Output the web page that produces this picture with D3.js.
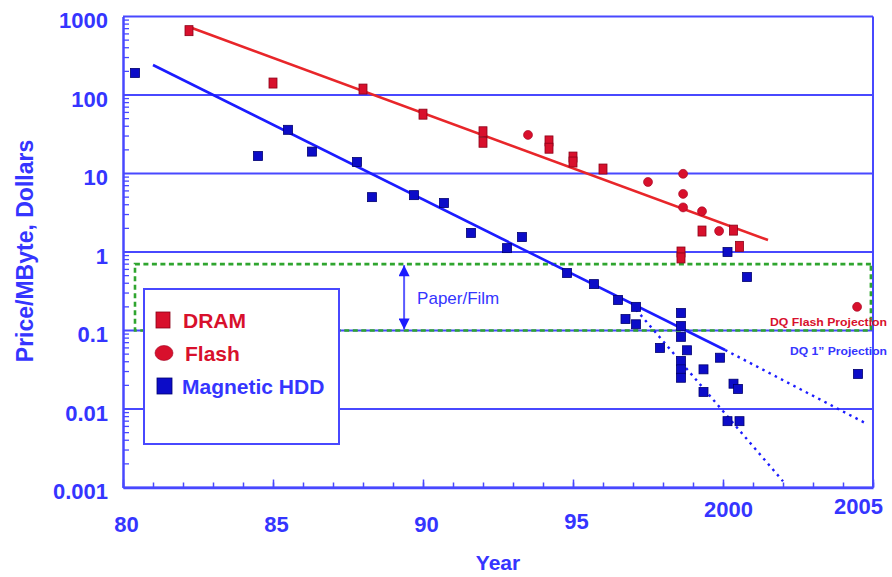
<!DOCTYPE html>
<html>
<head>
<meta charset="utf-8">
<script src="https://cdn.jsdelivr.net/npm/d3@7"></script>
<style>
  html, body { margin: 0; padding: 0; background: #fff; }
  svg { display: block; font-family: "Liberation Sans", Arial, sans-serif; }
</style>
</head>
<body>
<svg id="chart" width="892" height="577"></svg>
<script>
// ---------- data ----------
const dramYears  = [1982.2, 1985.0, 1988.0, 1990.0, 1992.0, 1992.0, 1994.2, 1994.2, 1995.0, 1995.0, 1996.0, 1998.6, 1998.6, 1999.3, 2000.35, 2000.55];
const dramValues = [660, 142, 119, 57, 34, 25, 26, 21, 16.2, 14, 11.4, 1.0, 0.84, 1.85, 1.9, 1.18];

const flashYears  = [1993.5, 1997.5, 1998.67, 1998.67, 1998.67, 1999.3, 1999.87, 2004.47];
const flashValues = [31, 7.8, 9.9, 5.5, 3.7, 3.3, 1.85, 0.2];

const hddYears  = [1980.4, 1984.5, 1985.5, 1986.3, 1987.8, 1988.3, 1989.7, 1990.7, 1991.6, 1992.8, 1993.3,
                   1994.8, 1995.7, 1996.5, 1997.1, 1996.75, 1997.1, 1997.9, 1998.6, 1998.6, 1998.6, 1998.8,
                   1998.6, 1998.6, 1998.6, 1999.35, 1999.35, 1999.9, 2000.35, 2000.5, 2000.15, 2000.55,
                   2000.15, 2000.8, 2004.5];
const hddValues = [191, 16.7, 36, 19, 14, 5.0, 5.3, 4.2, 1.75, 1.12, 1.55,
                   0.54, 0.39, 0.245, 0.2, 0.14, 0.12, 0.06, 0.167, 0.114, 0.083, 0.056,
                   0.041, 0.032, 0.025, 0.032, 0.0165, 0.045, 0.021, 0.018, 0.007, 0.007,
                   1.0, 0.48, 0.028];

const dramTrendYears  = [1982.3, 2001.5];
const dramTrendValues = [714, 1.42];
const hddTrendYears   = [1981.0, 2000.07];
const hddTrendValues  = [241, 0.0565];
const hddProjYears    = [2000.07, 2004.8];
const hddProjValues   = [0.0565, 0.00645];
const hddSteepYears   = [1997.1, 2002.0];
const hddSteepValues  = [0.185, 0.0012];

const paperFilmRange  = [0.1, 0.7];
const paperFilmYears  = [1980.4, 2004.93];
const paperArrowYear  = 1989.37;

const yTickValues = [1000, 100, 10, 1, 0.1, 0.01, 0.001];
const yTickLabels = ["1000", "100", "10", "1", "0.1", "0.01", "0.001"];
const xTickValues = [1980, 1985, 1990, 1995, 2000, 2005];
const xTickLabels = ["80", "85", "90", "95", "2000", "2005"];

const legendLabels = ["DRAM", "Flash", "Magnetic HDD"];

// ---------- layout / style ----------
const W = 892, H = 577;
const mLeft = 123, mRight = 873, mTop = 16.5, mBottom = 487.5;
const blueText = "#3535ff";
const gridBlue = "#4848ff";
const red = "#d8102c";
const redLine = "#e8262a";
const lineBlue = "#1c1cff";
const hddFill = "#0c0cc8";
const green = "#2fa52f";

const svg = d3.select("#chart");

const x = d3.scaleLinear().domain([1980, 2005]).range([mLeft, mRight]);
const y = d3.scaleLog().domain([0.001, 1000]).range([mBottom, mTop]);

// minor y ticks
const minorY = [];
for (let e = -3; e < 3; e++) for (let m = 2; m <= 9; m++) minorY.push(m * Math.pow(10, e));
svg.append("g").selectAll("line").data(minorY).join("line")
  .attr("x1", mLeft).attr("x2", mLeft + 6)
  .attr("y1", d => y(d)).attr("y2", d => y(d))
  .attr("stroke", gridBlue).attr("stroke-width", 1.3);

// horizontal grid lines
svg.append("g").selectAll("line").data(yTickValues).join("line")
  .attr("x1", mLeft).attr("x2", mRight)
  .attr("y1", d => y(d)).attr("y2", d => y(d))
  .attr("stroke", gridBlue).attr("stroke-width", 2);

// right border
svg.append("line").attr("x1", mRight).attr("x2", mRight).attr("y1", mTop).attr("y2", mBottom)
  .attr("stroke", gridBlue).attr("stroke-width", 2);

// Y axis
const yAxis = svg.append("g").attr("transform", `translate(${mLeft},0)`)
  .call(d3.axisLeft(y).tickValues(yTickValues).tickSize(0).tickPadding(15)
    .tickFormat((d, i) => yTickLabels[i]));
yAxis.select(".domain").attr("stroke", gridBlue).attr("stroke-width", 2.5);
yAxis.selectAll("text").attr("fill", blueText).attr("font-size", 22).attr("font-weight", "bold")
  .attr("dy", "0.5em");

// X axis: minor ticks
const years = d3.range(1980, 2006);
const xMinor = svg.append("g").attr("transform", `translate(0,${mBottom})`)
  .call(d3.axisBottom(x).tickValues(years).tickSizeInner(-5).tickSizeOuter(0).tickFormat(""));
xMinor.select(".domain").attr("stroke", gridBlue).attr("stroke-width", 2.5);
xMinor.selectAll(".tick line").attr("stroke", gridBlue).attr("stroke-width", 1.5);

// X axis: major ticks + labels
const labelLift = {1995: 3, 2000: 15, 2005: 18};
const labelShift = {2000: 5, 2005: -15};
const xMajor = svg.append("g").attr("transform", `translate(0,${mBottom})`)
  .call(d3.axisBottom(x).tickValues(xTickValues).tickSizeInner(-8).tickSizeOuter(0).tickPadding(30)
    .tickFormat((d, i) => xTickLabels[i]));
xMajor.select(".domain").remove();
xMajor.selectAll(".tick line").attr("stroke", gridBlue).attr("stroke-width", 1.5);
xMajor.selectAll(".tick text").attr("fill", blueText).attr("font-size", 22).attr("font-weight", "bold")
  .attr("dx", d => (labelShift[d] !== undefined ? labelShift[d] : 3))
  .attr("y", d => 29 - (labelLift[d] || 0));

// axis titles
svg.append("text").attr("transform", `translate(33,251) rotate(-90)`)
  .attr("text-anchor", "middle").attr("fill", blueText).attr("font-size", 23).attr("font-weight", "bold")
  .text("Price/MByte, Dollars");
svg.append("text").attr("x", 498).attr("y", 570).attr("text-anchor", "middle")
  .attr("fill", blueText).attr("font-size", 21).attr("font-weight", "bold").text("Year");

// paper/film band (green dashed)
svg.append("path")
  .attr("d", `M${x(paperFilmYears[1])},${y(paperFilmRange[1])} H${x(paperFilmYears[0])} V${y(paperFilmRange[0])} H${x(paperFilmYears[1])} Z`)
  .attr("fill", "none").attr("stroke", green).attr("stroke-width", 2.6).attr("stroke-dasharray", "5,3.5");

// Paper/Film arrow
const defs = svg.append("defs");
defs.append("marker").attr("id", "ah").attr("viewBox", "0 0 10 10").attr("refX", 10).attr("refY", 5)
  .attr("markerWidth", 14).attr("markerHeight", 11).attr("markerUnits", "userSpaceOnUse").attr("orient", "auto-start-reverse")
  .append("path").attr("d", "M0,0 L10,5 L0,10 Z").attr("fill", lineBlue);
svg.append("line")
  .attr("x1", x(paperArrowYear)).attr("x2", x(paperArrowYear))
  .attr("y1", y(paperFilmRange[1]) + 1).attr("y2", y(paperFilmRange[0]) - 1)
  .attr("stroke", "#5a5aff").attr("stroke-width", 2)
  .attr("marker-start", "url(#ah)").attr("marker-end", "url(#ah)");
svg.append("text").attr("x", x(paperArrowYear) + 13).attr("y", 304)
  .attr("fill", blueText).attr("font-size", 17).text("Paper/Film");

// trend lines
const line = d3.line().x(d => x(d[0])).y(d => y(d[1]));
svg.append("path").datum(d3.zip(dramTrendYears, dramTrendValues)).attr("d", line)
  .attr("fill", "none").attr("stroke", redLine).attr("stroke-width", 2.6);
svg.append("path").datum(d3.zip(hddTrendYears, hddTrendValues)).attr("d", line)
  .attr("fill", "none").attr("stroke", lineBlue).attr("stroke-width", 2.6);
svg.append("path").datum(d3.zip(hddProjYears, hddProjValues)).attr("d", line)
  .attr("fill", "none").attr("stroke", lineBlue).attr("stroke-width", 2.4).attr("stroke-dasharray", "2.5,4.5");
svg.append("path").datum(d3.zip(hddSteepYears, hddSteepValues)).attr("d", line)
  .attr("fill", "none").attr("stroke", lineBlue).attr("stroke-width", 2.4).attr("stroke-dasharray", "2.5,4.5");

// markers
svg.append("g").selectAll("rect").data(d3.zip(hddYears, hddValues)).join("rect")
  .attr("x", d => x(d[0]) - 4.5).attr("y", d => y(d[1]) - 4.5)
  .attr("width", 9).attr("height", 9)
  .attr("fill", hddFill).attr("stroke", "#00006e").attr("stroke-width", 0.8);
svg.append("g").selectAll("rect").data(d3.zip(dramYears, dramValues)).join("rect")
  .attr("x", d => x(d[0]) - 4).attr("y", d => y(d[1]) - 5)
  .attr("width", 8).attr("height", 10)
  .attr("fill", red).attr("stroke", "#8a0018").attr("stroke-width", 0.8);
svg.append("g").selectAll("circle").data(d3.zip(flashYears, flashValues)).join("circle")
  .attr("cx", d => x(d[0])).attr("cy", d => y(d[1])).attr("r", 4.5)
  .attr("fill", red).attr("stroke", "#a00020").attr("stroke-width", 0.6);

// projection labels
svg.append("text").attr("x", 770).attr("y", 326).attr("fill", red).attr("font-size", 10).attr("font-weight", "bold")
  .attr("textLength", 117).attr("lengthAdjust", "spacingAndGlyphs").text("DQ Flash Projection");
svg.append("text").attr("x", 790).attr("y", 355).attr("fill", blueText).attr("font-size", 10).attr("font-weight", "bold")
  .attr("textLength", 97).attr("lengthAdjust", "spacingAndGlyphs").text("DQ 1\u201D Projection");

// legend
const lg = svg.append("g");
lg.append("rect").attr("x", 144).attr("y", 289).attr("width", 195).attr("height", 155)
  .attr("fill", "#fff").attr("stroke", gridBlue).attr("stroke-width", 2);
const legendRows = [320, 353, 386];
lg.append("rect").attr("x", 156).attr("y", legendRows[0] - 8).attr("width", 14).attr("height", 16)
  .attr("fill", red).attr("stroke", "#8a0018").attr("stroke-width", 0.8);
lg.append("ellipse").attr("cx", 164).attr("cy", legendRows[1]).attr("rx", 9).attr("ry", 7.5)
  .attr("fill", red).attr("stroke", "#a00020").attr("stroke-width", 0.6);
lg.append("rect").attr("x", 157).attr("y", legendRows[2] - 8).attr("width", 15).attr("height", 16)
  .attr("fill", hddFill).attr("stroke", "#00006e").attr("stroke-width", 0.8);
const legendColors = [red, red, blueText];
const legendX = [183, 185, 182];
legendLabels.forEach((t, i) => {
  lg.append("text").attr("x", legendX[i]).attr("y", legendRows[i] + 7.5)
    .attr("fill", legendColors[i]).attr("font-size", 21).attr("font-weight", "bold").text(t);
});
</script>
</body>
</html>
